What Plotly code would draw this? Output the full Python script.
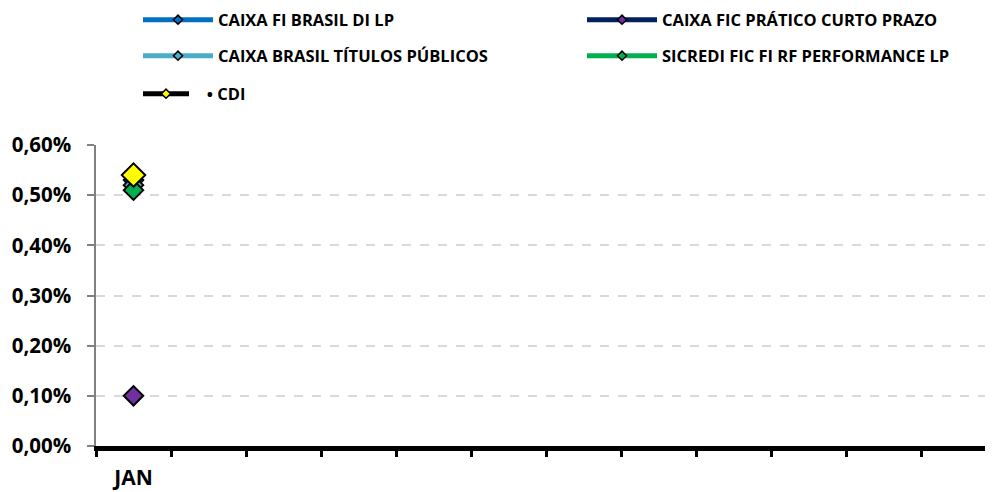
import plotly.graph_objects as go

months = ["JAN", "FEV", "MAR", "ABR", "MAI", "JUN", "JUL", "AGO", "SET", "OUT", "NOV", "DEZ"]
tick_labels = ["JAN", "", "", "", "", "", "", "", "", "", "", ""]

series_names = [
    "CAIXA FI BRASIL DI LP",
    "CAIXA FIC PRÁTICO CURTO PRAZO",
    "CAIXA BRASIL TÍTULOS PÚBLICOS",
    "SICREDI FIC FI RF PERFORMANCE LP",
    "\u00a0\u00a0\u00a0• CDI",
]
caixa_di = [0.0053]
caixa_pratico = [0.0010]
caixa_tp = [0.0052]
sicredi = [0.0051]
cdi = [0.0054]

values = [caixa_di, caixa_pratico, caixa_tp, sicredi, cdi]
line_colors = ["#0070C0", "#002060", "#4BACC6", "#00B050", "#000000"]
marker_colors = ["#0070C0", "#7030A0", "#4BACC6", "#00B050", "#FFFF00"]
marker_sizes = [15, 15, 15, 15, 18]

FONT = "Open Sans"
# page body has an 8px margin, so the figure is drawn 8px smaller and shifted
W, H = 985, 484

# legend placement (page px): (x of line start, y of row center, itemwidth)
legend_pos = [(143, 20, 70), (587, 20, 70), (143, 56, 70), (587, 56, 70), (143, 94, 46)]

fig = go.Figure()
for i, (name, vals) in enumerate(zip(series_names, values)):
    fig.add_trace(go.Scatter(
        x=months[:len(vals)], y=vals, name=name, mode="lines+markers",
        line=dict(color=line_colors[i], width=5),
        marker=dict(symbol="diamond", size=marker_sizes[i], color=marker_colors[i],
                    line=dict(color="#000000", width=2)),
        showlegend=False,
    ))
for i, name in enumerate(series_names):
    lg = "legend" if i == 0 else f"legend{i+1}"
    fig.add_trace(go.Scatter(
        x=[None], y=[None], name=name, mode="lines+markers",
        line=dict(color=line_colors[i], width=5),
        marker=dict(symbol="diamond", size=7, color=marker_colors[i],
                    line=dict(color="#000000", width=1.5)),
        legend=lg, showlegend=True,
    ))

layout_legends = {}
for i, (px, py, iw) in enumerate(legend_pos):
    key = "legend" if i == 0 else f"legend{i+1}"
    layout_legends[key] = dict(
        xref="container", yref="container",
        x=(px - 13) / W, y=1 - (py - 8) / H, xanchor="left", yanchor="middle",
        bgcolor="rgba(0,0,0,0)", borderwidth=0, itemwidth=iw,
        font=dict(family=FONT, size=16.5, color="#000000", weight="bold"),
    )

fig.update_layout(
    width=W, height=H,
    margin=dict(l=88, r=0, t=137, b=46, autoexpand=False),
    paper_bgcolor="white", plot_bgcolor="white",
    separators=",.",
    showlegend=True,
    xaxis=dict(
        type="category", categoryorder="array", categoryarray=months,
        tickmode="array", tickvals=months, ticktext=tick_labels, tickangle=0,
        range=[-0.5, -0.5 + 897 / 75],
        tickson="boundaries", ticks="outside", ticklen=6, tickwidth=3, tickcolor="#000000",
        showline=True, linecolor="#000000", linewidth=5,
        showgrid=False, zeroline=False, ticklabelstandoff=9,
        tickfont=dict(family=FONT, size=21, color="#000000", weight="bold"),
    ),
    yaxis=dict(
        range=[0, 0.006], tickmode="linear", tick0=0, dtick=0.001, tickformat=".2%",
        ticks="outside", ticklen=7, tickwidth=1.5, tickcolor="#808080",
        showline=True, linecolor="#808080", linewidth=1.5,
        showgrid=True, gridcolor="#D9D9D9", gridwidth=1.5, griddash="dash",
        zeroline=False, ticklabelstandoff=12,
        tickfont=dict(family=FONT, size=20.5, color="#000000", weight="bold"),
    ),
    **layout_legends,
)

fig.write_html("out.html")
